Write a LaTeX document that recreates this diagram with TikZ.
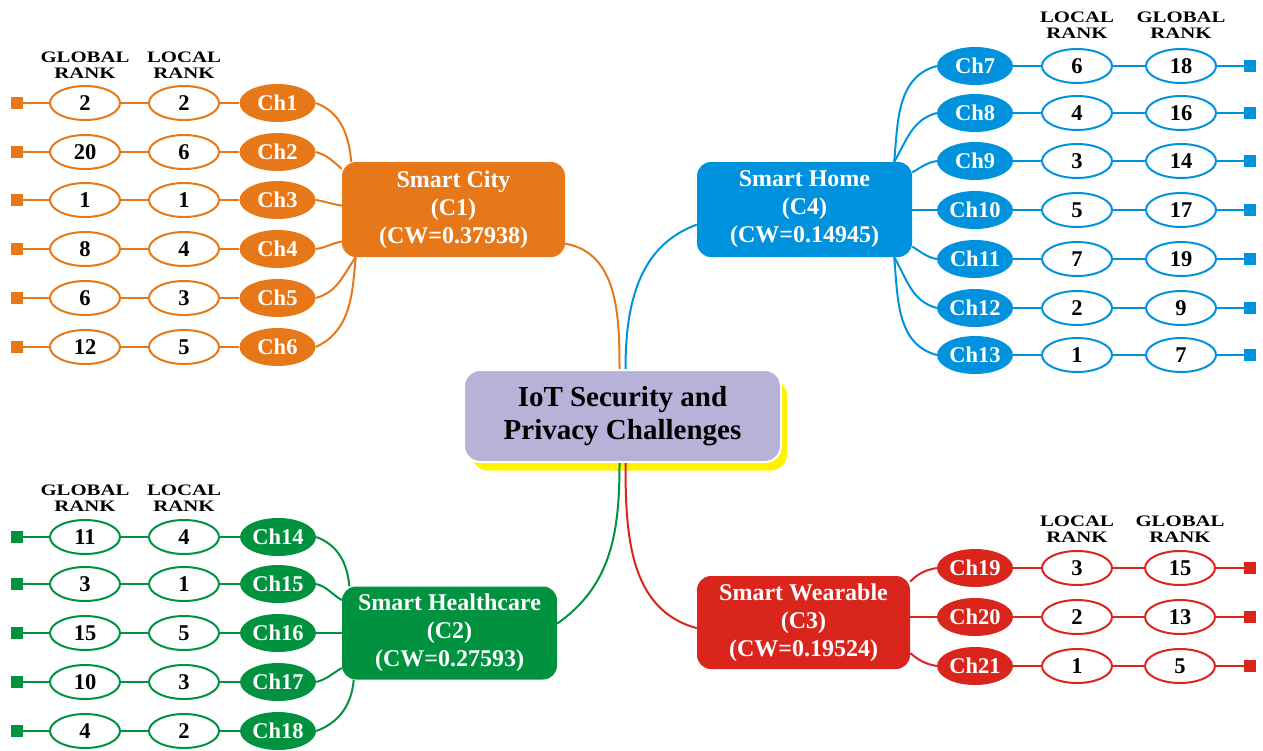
\documentclass[tikz,border=0pt]{standalone}
\usepackage{fontspec}
\setmainfont{Liberation Serif}
\newfontfamily\hdrfam[FakeStretch=1.3]{Liberation Serif}
\usetikzlibrary{shapes.geometric}
\definecolor{corange}{RGB}{230,120,25}
\definecolor{cblue}{RGB}{0,146,221}
\definecolor{cgreen}{RGB}{0,146,63}
\definecolor{cred}{RGB}{218,37,29}
\definecolor{clav}{RGB}{183,178,216}
\definecolor{cyel}{RGB}{255,242,0}
\begin{document}
\begin{tikzpicture}[x=1pt,y=-1pt,
 chn/.style={ellipse, fill=#1, minimum width=76pt, minimum height=38pt, inner sep=0pt, text=white, font=\fontsize{22.5}{24}\selectfont\bfseries},
 rk/.style={ellipse, draw=#1, line width=2pt, fill=white, minimum width=70pt, minimum height=34pt, inner sep=0pt, font=\fontsize{22.5}{24}\selectfont\bfseries},
 sq/.style={fill=#1, minimum size=12pt, inner sep=0pt},
 ln/.style={draw=#1, line width=2pt},
 cat/.style={rectangle, rounded corners=14pt, fill=#1, text=white, align=center, inner sep=0pt, font=\fontsize{24}{28}\selectfont\bfseries},
 hdr/.style={align=center, font=\hdrfam\fontsize{16}{16}\selectfont\bfseries, text=black},
]
\useasboundingbox (0,0) rectangle (1263,750);

% ---------- centre ----------
\node[rectangle, rounded corners=16pt, fill=cyel, minimum width=315pt, minimum height=91pt] (iotsh) at (629.5,425) {};
\node[rectangle, rounded corners=16pt, fill=clav, draw=white, line width=2pt, minimum width=317pt, minimum height=92pt, align=center, font=\fontsize{29}{33}\selectfont\bfseries] (iot) at (622.5,416) {IoT Security and\\Privacy Challenges};

% ---------- category boxes ----------
\node[cat=corange, minimum width=223pt, minimum height=95pt] (city) at (453.5,209.5) {Smart City\\(C1)\\(CW=0.37938)};
\node[cat=cblue, minimum width=215pt, minimum height=95pt] (home) at (804.5,209.5) {Smart Home\\(C4)\\(CW=0.14945)};
\node[cat=cgreen, minimum width=215pt, minimum height=93pt] (health) at (449.5,633) {Smart Healthcare\\(C2)\\(CW=0.27593)};
\node[cat=cred, minimum width=213pt, minimum height=93pt] (wear) at (803.5,622.5) {Smart Wearable\\(C3)\\(CW=0.19524)};

% ---------- headers ----------
\node[hdr] (hcg) at (85,65) {GLOBAL\\RANK};
\node[hdr] (hcl) at (184,65) {LOCAL\\RANK};
\node[hdr] (hhl) at (1077,25) {LOCAL\\RANK};
\node[hdr] (hhg) at (1181,25) {GLOBAL\\RANK};
\node[hdr] (hgg) at (85,498.5) {GLOBAL\\RANK};
\node[hdr] (hgl) at (184,498.5) {LOCAL\\RANK};
\node[hdr] (hwl) at (1077,529) {LOCAL\\RANK};
\node[hdr] (hwg) at (1180,529) {GLOBAL\\RANK};

% ---------- Smart City ----------
\foreach \i/\y/\gr/\lr in {1/103/2/2,2/152/20/6,3/200/1/1,4/249/8/4,5/298/6/3,6/347/12/5}{
 \node[chn=corange] (ch\i) at (277.5,\y) {Ch\i};
 \node[rk=corange] (lo\i) at (184,\y) {\lr};
 \node[rk=corange] (gl\i) at (85,\y) {\gr};
 \node[sq=corange] (sq\i) at (17,\y) {};
 \draw[ln=corange] (sq\i) -- (gl\i) -- (lo\i) -- (ch\i);
}
\foreach \i/\a/\o/\b in {1/155/-20/95,2/160/-15/140,3/178/-8/172,4/196/8/190,5/206/15/235,6/206/25/-95}
 \draw[ln=corange] (ch\i.east) to[out=\o,in=\b] (city.\a);

% ---------- Smart Home ----------
\foreach \i/\y/\lr/\gr in {7/66/6/18,8/113/4/16,9/161/3/14,10/210/5/17,11/259/7/19,12/308/2/9,13/355/1/7}{
 \node[chn=cblue] (ch\i) at (975,\y) {Ch\i};
 \node[rk=cblue] (lo\i) at (1077,\y) {\lr};
 \node[rk=cblue] (gl\i) at (1181,\y) {\gr};
 \node[sq=cblue] (sq\i) at (1250,\y) {};
 \draw[ln=cblue] (ch\i) -- (lo\i) -- (gl\i) -- (sq\i);
}
\foreach \i/\a/\o/\b in {7/28/195/85,8/28/195/60,9/19/190/30,11/-19/170/-30,12/-28/165/-60,13/-28/165/-85}
 \draw[ln=cblue] (ch\i.west) to[out=\o,in=\b] (home.\a);
\draw[ln=cblue] (ch10.west) -- (ch10.west -| home.east);

% ---------- Smart Healthcare ----------
\foreach \i/\y/\gr/\lr in {14/537/11/4,15/584/3/1,16/633/15/5,17/682/10/3,18/731/4/2}{
 \node[chn=cgreen] (ch\i) at (278,\y) {Ch\i};
 \node[rk=cgreen] (lo\i) at (184,\y) {\lr};
 \node[rk=cgreen] (gl\i) at (85,\y) {\gr};
 \node[sq=cgreen] (sq\i) at (17,\y) {};
 \draw[ln=cgreen] (sq\i) -- (gl\i) -- (lo\i) -- (ch\i);
}
\foreach \i/\a/\o/\b in {14/155/-20/95,15/163/-15/150,17/198/15/210,18/206/20/-95}
 \draw[ln=cgreen] (ch\i.east) to[out=\o,in=\b] (health.\a);
\draw[ln=cgreen] (ch16.east) -- (ch16.east -| health.west);

% ---------- Smart Wearable ----------
\foreach \i/\y/\lr/\gr in {19/568/3/15,20/617/2/13,21/666/1/5}{
 \node[chn=cred] (ch\i) at (975,\y) {Ch\i};
 \node[rk=cred] (lo\i) at (1077,\y) {\lr};
 \node[rk=cred] (gl\i) at (1180,\y) {\gr};
 \node[sq=cred] (sq\i) at (1250,\y) {};
 \draw[ln=cred] (ch\i) -- (lo\i) -- (gl\i) -- (sq\i);
}
\foreach \i/\a/\o/\b in {19/21/190/45,21/-16/170/-40}
 \draw[ln=cred] (ch\i.west) to[out=\o,in=\b] (wear.\a);
\draw[ln=cred] (ch20.west) -- (ch20.west -| wear.east);

% ---------- links to centre ----------
\draw[ln=corange] (city.-17) to[out=-10,in=90] ([xshift=-3pt]iot.north);
\draw[ln=cblue] (home.188) to[out=200,in=90] ([xshift=3pt]iot.north);
\draw[ln=cgreen] (health.5) to[out=35,in=-90] ([xshift=-3pt]iot.south);
\draw[ln=cred] (wear.183) to[out=165,in=-90] ([xshift=3pt]iot.south);
\end{tikzpicture}
\end{document}
